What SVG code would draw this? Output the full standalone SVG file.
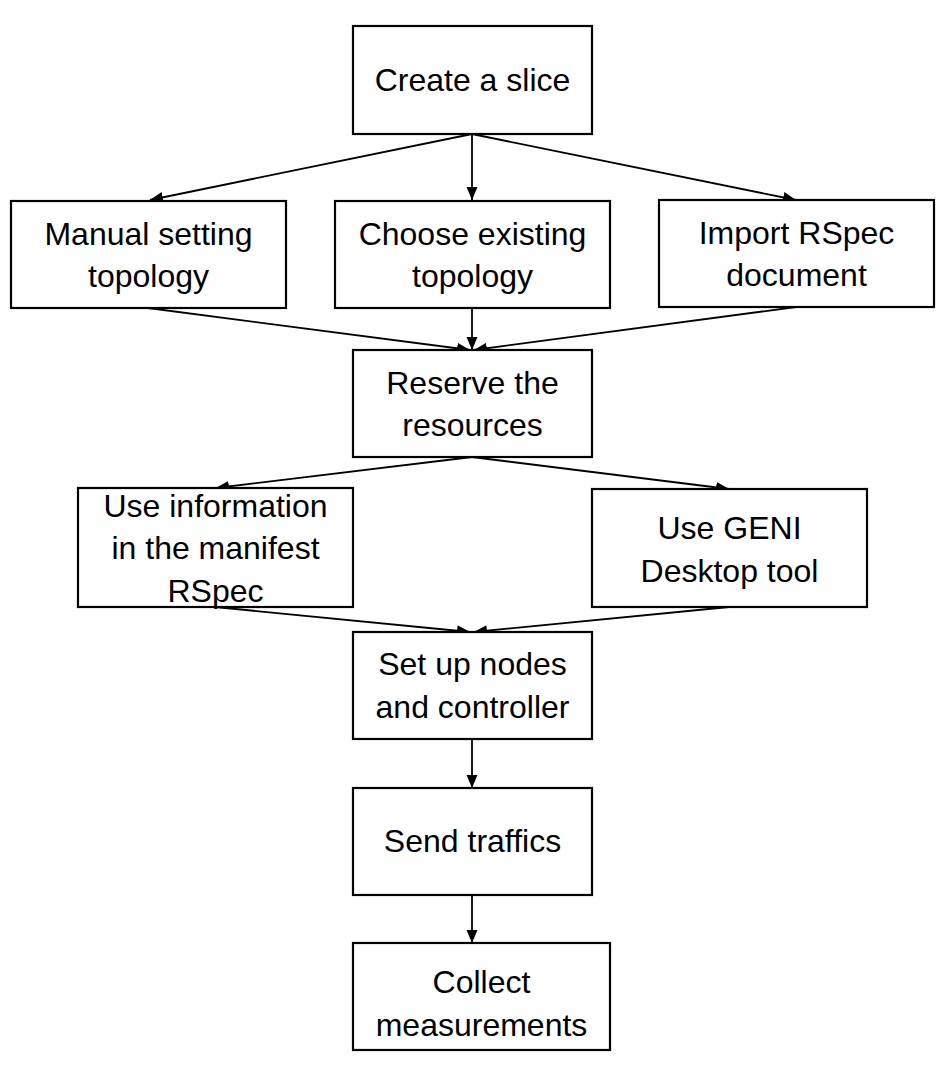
<svg xmlns="http://www.w3.org/2000/svg" width="942" height="1077" viewBox="0 0 942 1077">
<style>
.box{fill:#fff;stroke:#000;stroke-width:2.2}
.t{font-family:"Liberation Sans",Arial,sans-serif;font-size:32px;fill:#000;text-anchor:middle}
.c{stroke:#000;stroke-width:1.8;fill:none;marker-end:url(#ah)}
</style>
<defs>
<marker id="ah" markerUnits="userSpaceOnUse" markerWidth="14" markerHeight="12" refX="13" refY="5.5" orient="auto">
<path d="M0,0 L13,5.5 L0,11 z" fill="#000"/>
</marker>
</defs>
<rect width="942" height="1077" fill="#fff"/>
<g id="connectors">
<line class="c" x1="472" y1="134" x2="150" y2="200"/>
<line class="c" x1="472" y1="134" x2="472" y2="200"/>
<line class="c" x1="472" y1="134" x2="796" y2="200"/>
<line class="c" x1="148" y1="308" x2="470" y2="350"/>
<line class="c" x1="472" y1="308" x2="472" y2="350"/>
<line class="c" x1="796" y1="307" x2="474" y2="350"/>
<line class="c" x1="472" y1="457" x2="216" y2="488"/>
<line class="c" x1="472" y1="457" x2="729" y2="489"/>
<line class="c" x1="215" y1="607" x2="470" y2="632"/>
<line class="c" x1="729" y1="607" x2="474" y2="632"/>
<line class="c" x1="472" y1="739" x2="472" y2="788"/>
<line class="c" x1="472" y1="895" x2="472" y2="943"/>
</g>
<g id="create">
<rect class="box" x="353" y="26" width="239" height="108"/>
<text class="t" x="472.5" y="91">Create a slice</text>
</g>
<g id="manual">
<rect class="box" x="11" y="201" width="275" height="107"/>
<text class="t" x="148.5" y="245">Manual setting</text>
<text class="t" x="148.5" y="287">topology</text>
</g>
<g id="choose">
<rect class="box" x="335" y="201" width="275" height="107"/>
<text class="t" x="472.5" y="245">Choose existing</text>
<text class="t" x="472.5" y="287">topology</text>
</g>
<g id="import">
<rect class="box" x="659" y="200" width="275" height="107"/>
<text class="t" x="796.5" y="244">Import RSpec</text>
<text class="t" x="796.5" y="286">document</text>
</g>
<g id="reserve">
<rect class="box" x="353" y="350" width="239" height="107"/>
<text class="t" x="472.5" y="394">Reserve the</text>
<text class="t" x="472.5" y="436">resources</text>
</g>
<g id="useinfo">
<rect class="box" x="78" y="488" width="275" height="119"/>
<text class="t" x="215.5" y="517">Use information</text>
<text class="t" x="215.5" y="559">in the manifest</text>
<text class="t" x="215.5" y="602">RSpec</text>
</g>
<g id="geni">
<rect class="box" x="592" y="489" width="275" height="118"/>
<text class="t" x="729.5" y="539">Use GENI</text>
<text class="t" x="729.5" y="582">Desktop tool</text>
</g>
<g id="setup">
<rect class="box" x="353" y="632" width="239" height="107"/>
<text class="t" x="472.5" y="675">Set up nodes</text>
<text class="t" x="472.5" y="718">and controller</text>
</g>
<g id="send">
<rect class="box" x="353" y="788" width="239" height="107"/>
<text class="t" x="472.5" y="852">Send traffics</text>
</g>
<g id="collect">
<rect class="box" x="353" y="943" width="257" height="107"/>
<text class="t" x="481.5" y="993">Collect</text>
<text class="t" x="481.5" y="1036">measurements</text>
</g>
</svg>
